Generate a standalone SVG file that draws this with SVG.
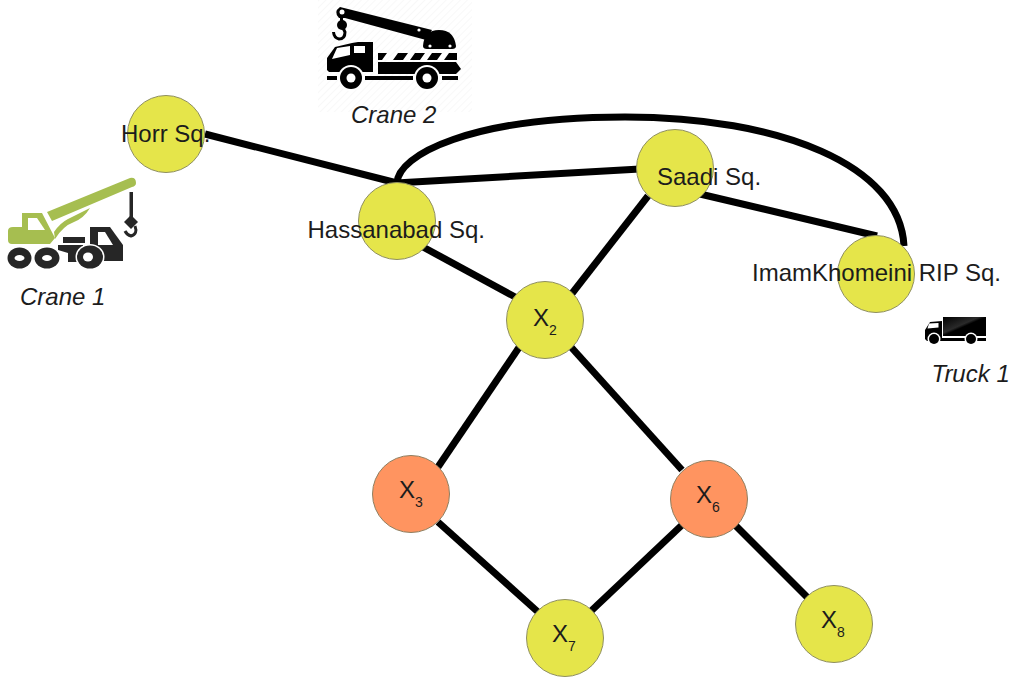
<svg xmlns="http://www.w3.org/2000/svg" width="1016" height="688" viewBox="0 0 1016 688">
  <style>
    text { font-family: "Liberation Sans", Arial, sans-serif; font-size: 24px; fill: #1c1c1c; }
    .cap { font-style: italic; }
    .sub { font-size: 14px; }
    .yellow { fill: #e5e54a; stroke: #8f8f60; stroke-width: 1; }
    .orange { fill: #ff9460; stroke: #8f7f60; stroke-width: 1; }
    .edge { fill: none; stroke: #000; stroke-width: 7; }
    .ink { fill: #000; }
    .dark { fill: #262626; }
    .green { fill: #a6be50; }
    .paper { fill: #fff; }
  </style>
  <defs>
    <pattern id="hatch" width="5" height="5" patternUnits="userSpaceOnUse" patternTransform="rotate(-45)">
      <line x1="0" y1="0" x2="5" y2="0" stroke="#f1f1f1" stroke-width="1"/>
    </pattern>
    <linearGradient id="box" x1="0" y1="0" x2="1" y2="1">
      <stop offset="0" stop-color="#000"/>
      <stop offset="0.42" stop-color="#2a2a2a"/>
      <stop offset="0.5" stop-color="#000"/>
    </linearGradient>
  </defs>

  <g id="connectors">
    <path class="edge" d="M205,134 L397,183"/>
    <path class="edge" d="M396,183 L640,169"/>
    <path class="edge" d="M700,194 L877,236"/>
    <path class="edge" d="M397,183 C398,155 470,117 625,117 C780,117 900,165 904,246"/>
    <path class="edge" d="M423,247 L517,298"/>
    <path class="edge" d="M648,196 L570,296"/>
    <path class="edge" d="M520,346 L438,467"/>
    <path class="edge" d="M571,347 L682,470"/>
    <path class="edge" d="M438,522 L538,612"/>
    <path class="edge" d="M682,525 L590,612"/>
    <path class="edge" d="M736,526 L807,597"/>
  </g>

  <g id="node-horr">
    <circle class="yellow" cx="166" cy="134" r="38.5"/>
    <text x="121" y="142">Horr Sq.</text>
  </g>
  <g id="node-hassanabad">
    <circle class="yellow" cx="397" cy="221" r="38.5"/>
    <text x="307.5" y="238">Hassanabad Sq.</text>
  </g>
  <g id="node-saadi">
    <circle class="yellow" cx="675" cy="168" r="38.5"/>
    <text x="657" y="185">Saadi Sq.</text>
  </g>
  <g id="node-imam">
    <circle class="yellow" cx="876" cy="274" r="38.5"/>
    <text x="752" y="281">ImamKhomeini RIP Sq.</text>
  </g>
  <g id="node-x2">
    <circle class="yellow" cx="545" cy="320" r="38.5"/>
    <text x="533" y="326">X<tspan class="sub" dy="9">2</tspan></text>
  </g>
  <g id="node-x3">
    <circle class="orange" cx="411" cy="494" r="38.5"/>
    <text x="399" y="498">X<tspan class="sub" dy="9">3</tspan></text>
  </g>
  <g id="node-x6">
    <circle class="orange" cx="709" cy="499" r="38.5"/>
    <text x="696" y="503">X<tspan class="sub" dy="9">6</tspan></text>
  </g>
  <g id="node-x7">
    <circle class="yellow" cx="565" cy="638" r="38.5"/>
    <text x="552" y="642">X<tspan class="sub" dy="9">7</tspan></text>
  </g>
  <g id="node-x8">
    <circle class="yellow" cx="834" cy="624" r="38.5"/>
    <text x="821" y="628">X<tspan class="sub" dy="9">8</tspan></text>
  </g>

  <g id="crane-1">
    <path class="green" d="M47,212 L130,178 Q136,177 136,183 Q136,186 132,187 L52,221 Z"/>
    <path class="green" d="M54,232 Q60,223 68,219 L90,208 Q84,218 74,222 Q63,226 55,239 Z"/>
    <path class="green" d="M8,231 Q8,227 13,227 L22,227 L22,213 L42,213 L55,238 L50,244 L12,244 Q8,244 8,240 Z"/>
    <path class="paper" d="M28,218 L37,218 L45,230 L28,230 Z"/>
    <rect class="dark" x="129.5" y="192" width="3.5" height="25"/>
    <path class="dark" d="M131,215 L138,222 L131,229 L124,222 Z"/>
    <path d="M135,226 Q138,234 131,236 Q127,235 125,231" fill="none" stroke="#262626" stroke-width="3"/>
    <rect class="dark" x="63" y="237" width="22" height="6"/>
    <path class="dark" d="M90,227 L110,227 L123,245 L123,261 L90,261 Z"/>
    <path class="paper" d="M98,232 L105,232 L113,245 L98,245 Z"/>
    <path class="dark" d="M58,245 L83,245 L83,250 L77,253 L77,262 L68,262 L68,253 L58,250 Z"/>
    <ellipse class="dark" cx="19.500" cy="258" rx="12" ry="10.500"/>
    <ellipse class="dark" cx="47" cy="258" rx="12.500" ry="10.500"/>
    <ellipse class="paper" cx="90" cy="257" rx="14.500" ry="13"/>
    <ellipse class="dark" cx="90" cy="257" rx="13" ry="11.500"/>
    <ellipse class="paper" cx="19.500" cy="258" rx="5" ry="3"/>
    <ellipse class="paper" cx="47" cy="258" rx="5" ry="3"/>
    <ellipse class="paper" cx="88" cy="257" rx="5" ry="4.500"/>
    <text class="cap" x="20" y="305">Crane 1</text>
  </g>

  <g id="crane-2">
    <rect x="318" y="0" width="154" height="112" fill="url(#hatch)"/>
    <path class="ink" d="M340,7 L432,30 L426,40 L345,18 L339,18 Q333,12 340,7 Z"/>
    <circle class="paper" cx="342" cy="12" r="2.500"/>
    <circle class="paper" cx="419" cy="30" r="1.600"/>
    <rect class="ink" x="340" y="17" width="3" height="5"/>
    <circle class="ink" cx="342" cy="25" r="5"/>
    <path d="M343,28 L345,32 Q345,39 339,39 Q334,38 333.500,32" fill="none" stroke="#000" stroke-width="3"/>
    <path class="ink" d="M423,46 Q424,30 439,30 Q454,30 456,46 Q456,49 452,49 L427,49 Q423,49 423,46 Z"/>
    <circle class="paper" cx="430" cy="46" r="1.600"/>
    <circle class="paper" cx="450" cy="46" r="1.600"/>
    <path class="ink" d="M327,70 L327,58 L335,47 L352,43 L358,42 L373,42 L373,72 L329,72 Z"/>
    <path class="paper" d="M337,48 L350,46 L350,55 L332,59 Z"/>
    <rect class="paper" x="354" y="46" width="11" height="7"/>
    <path class="ink" d="M378,62 L456,62 L461,69 L456,74 L378,74 Z"/>
    <path class="ink" d="M378,60 L378,53 L387,53 L382,60 Z M393,60 L398,53 L408,53 L403,60 Z M410,60 L415,53 L425,53 L420,60 Z M427,60 L432,53 L442,53 L437,60 Z M444,60 L449,53 L457,53 L457,60 Z"/>
    <circle class="paper" cx="351" cy="78" r="13"/>
    <circle class="paper" cx="427" cy="78" r="13"/>
    <path class="ink" d="M327,76 H337 V80 H327 Z M365,76 H413 V80 H365 Z M442,76 H458 V80 H442 Z"/>
    <circle class="ink" cx="351" cy="78" r="11"/>
    <circle class="ink" cx="427" cy="78" r="11"/>
    <circle class="paper" cx="351" cy="78" r="4.500"/>
    <circle class="paper" cx="427" cy="78" r="4.500"/>
    <text class="cap" x="351" y="123">Crane 2</text>
  </g>

  <g id="truck-1">
    <path fill="url(#box)" d="M943,317 L986,317 L986,336 L943,336 Z"/>
    <path class="ink" d="M925,339 L925,330 L930,322 L942,321 L942,341 L927,341 Z"/>
    <path class="paper" d="M929,323.500 L938.500,323 L938.500,327.500 L927.500,328.500 Z"/>
    <rect class="ink" x="942" y="338" width="44" height="3"/>
    <circle class="paper" cx="934" cy="339" r="6.500"/>
    <circle class="paper" cx="971" cy="339" r="6.500"/>
    <circle class="ink" cx="934" cy="339" r="5"/>
    <circle class="ink" cx="971" cy="339" r="5"/>
    <text class="cap" x="931.500" y="382">Truck 1</text>
  </g>
</svg>
